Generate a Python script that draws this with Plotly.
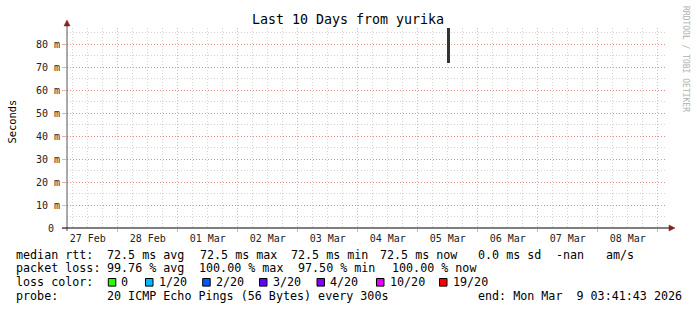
import plotly.graph_objects as go

# ---------------- data ----------------
probe_times = ["2026-03-05 12:10:00"]
smoke_low = [0.0719]
smoke_high = [0.0935]

x_start = "2026-02-27 03:41:43"
x_end = "2026-03-09 03:41:43"

ytick_vals = [0, 0.01, 0.02, 0.03, 0.04, 0.05, 0.06, 0.07, 0.08]
ytick_text = ["0\u00a0", "10 m", "20 m", "30 m", "40 m", "50 m", "60 m", "70 m", "80 m"]

title_text = "Last 10 Days from yurika"
rtt_label = "median rtt:"
rtt_stats = ["72.5 ms avg", "72.5 ms max", "72.5 ms min", "72.5 ms now", "0.0 ms sd", "-nan", "am/s"]
loss_label = "packet loss:"
loss_stats = ["99.76 % avg", "100.00 % max", "97.50 % min", "100.00 % now"]
color_label = "loss color:"
loss_levels = ["0", "1/20", "2/20", "3/20", "4/20", "10/20", "19/20"]
loss_colors = ["#26ff00", "#00b8ff", "#0059ff", "#5e00ff", "#7e00ff", "#dd00ff", "#ff0000"]
probe_label = "probe:"
probe_text = "20 ICMP Echo Pings (56 Bytes) every 300s"
end_text = "end: Mon Mar  9 03:41:43 2026"

# ---------------- geometry helpers ----------------
W_FIG, H_FIG = 697, 310
L, R, T, B = 67, 667, 28, 228
PW, PH = R - L, B - T
YMAX = (B - T) / 2300.0


def xp(x):
    return (x - L) / PW


def yp(y):
    return (B - y) / PH


MONO = "DejaVu Sans Mono"

fig = go.Figure()
fig.add_trace(go.Bar(
    x=probe_times,
    y=[h - l for h, l in zip(smoke_high, smoke_low)],
    base=smoke_low,
    width=4_700_000,
    marker=dict(color="#333333", line=dict(width=0)),
    showlegend=False,
    hoverinfo="skip",
))

MAJ = "rgba(255,0,0,0.34)"
MIN = "rgba(120,120,120,0.32)"
DASH = "1px,2px"

fig.update_layout(
    width=W_FIG, height=H_FIG,
    margin=dict(l=L, r=W_FIG - R, t=T, b=H_FIG - B, pad=0),
    paper_bgcolor="white", plot_bgcolor="white",
    showlegend=False,
    bargap=0,
    xaxis=dict(
        type="date", range=[x_start, x_end],
        tick0="2026-02-27", dtick=86400000,
        tickformat="%d %b", ticklabelmode="period",
        showgrid=True, gridcolor=MAJ, griddash=DASH, gridwidth=1,
        ticks="outside", ticklen=3, tickcolor=MAJ,
        ticklabelstandoff=-2,
        tickfont=dict(family=MONO, size=10, color="#222"),
        minor=dict(dtick=21600000, showgrid=True, gridcolor=MIN, griddash=DASH, ticks=""),
        showline=False, zeroline=False, fixedrange=True,
    ),
    yaxis=dict(
        range=[0, YMAX],
        tickvals=ytick_vals, ticktext=ytick_text,
        showgrid=True, gridcolor=MAJ, griddash=DASH, gridwidth=1,
        ticks="outside", ticklen=4, tickcolor=MAJ,
        tickfont=dict(family=MONO, size=10, color="#222"),
        minor=dict(dtick=0.005, showgrid=True, gridcolor=MIN, griddash=DASH, ticks=""),
        showline=False, zeroline=False, fixedrange=True,
    ),
)

shapes = []
# axis lines
shapes.append(dict(type="line", xref="paper", yref="paper", x0=0, x1=0, y0=yp(231), y1=yp(22),
                   line=dict(color="#555555", width=1), layer="above"))
shapes.append(dict(type="line", xref="paper", yref="paper", x0=xp(62), x1=xp(669), y0=0, y1=0,
                   line=dict(color="#000000", width=1), layer="above"))
# arrow heads
ARR = "#8b1e1e"
shapes.append(dict(type="path", xref="paper", yref="paper",
                   path=f"M {xp(67)} {yp(20)} L {xp(64)} {yp(26)} L {xp(70)} {yp(26)} Z",
                   fillcolor=ARR, line=dict(color=ARR, width=0.5), layer="above"))
shapes.append(dict(type="path", xref="paper", yref="paper",
                   path=f"M {xp(675)} {yp(228)} L {xp(669)} {yp(225)} L {xp(669)} {yp(231)} Z",
                   fillcolor=ARR, line=dict(color=ARR, width=0.5), layer="above"))

annotations = []


def txt(x, y, s, size=11.7, color="#000", anchor="left", family=MONO, angle=0):
    annotations.append(dict(
        xref="paper", yref="paper", x=xp(x), y=yp(y), text=s.replace(" ", "\u00a0"),
        showarrow=False, xanchor=anchor, yanchor="middle", borderpad=0, borderwidth=0,
        font=dict(family=family, size=size, color=color), textangle=angle,
    ))


# title
txt(347.5, 19, title_text, size=13.3, anchor="center")
# y-axis title
txt(11, 121.5, "Seconds", size=10.4, anchor="center", angle=-90)
# watermark
txt(686, 59, "RRDTOOL / TOBI OETIKER", size=8, color="#b0b0b0", anchor="center", angle=90)

# legend rows
ROW = [254.5, 268.3, 282.3, 296]
X0 = 15.5
txt(X0, ROW[0], rtt_label)
for s, x in zip(rtt_stats, [106.5, 199.5, 290.8, 379.5, 477.5, 556, 606]):
    txt(x, ROW[0], s)
txt(X0, ROW[1], loss_label)
for s, x in zip(loss_stats, [106.5, 199, 297.5, 391.5]):
    txt(x, ROW[1], s)
txt(X0, ROW[2], color_label)
for s, c, x in zip(loss_levels, loss_colors, [108.3, 145.5, 202.7, 259.5, 317, 376.5, 439.5]):
    shapes.append(dict(type="rect", xref="paper", yref="paper",
                       x0=xp(x), x1=xp(x + 7.5), y0=yp(ROW[2] + 3.8), y1=yp(ROW[2] - 3.8),
                       fillcolor=c, line=dict(color="#000", width=1), layer="above"))
    txt(x + 13, ROW[2], s)
txt(X0, ROW[3], probe_label)
txt(106.5, ROW[3], probe_text)
txt(477.5, ROW[3], end_text)

fig.update_layout(shapes=shapes, annotations=annotations)
fig.write_html("out.html")
